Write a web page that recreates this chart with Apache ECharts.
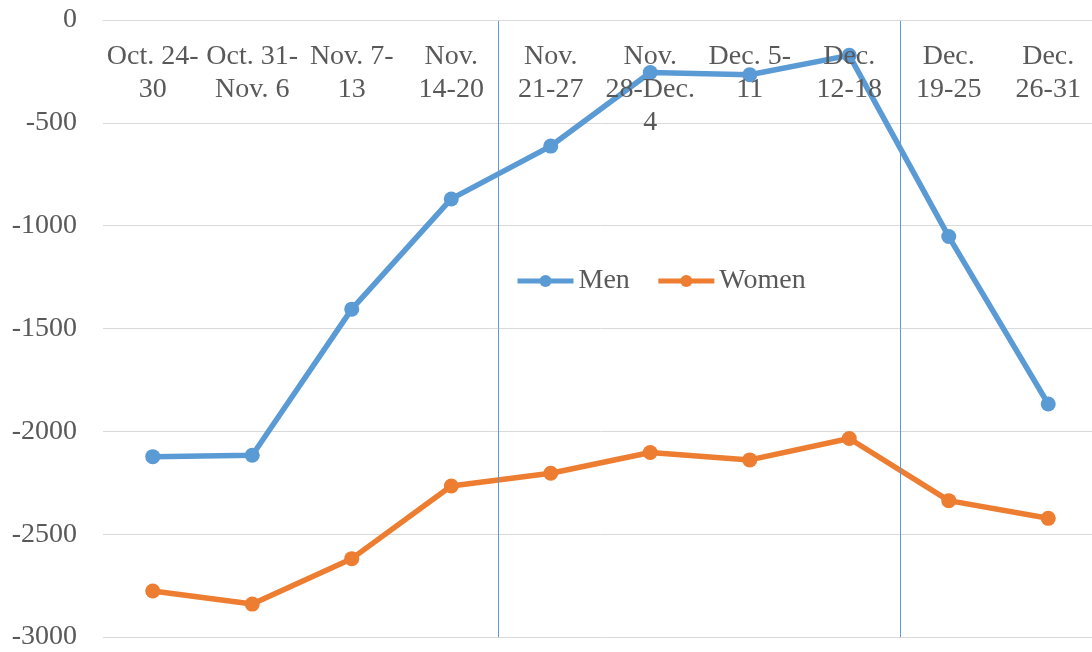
<!DOCTYPE html>
<html>
<head>
<meta charset="utf-8">
<script src="https://cdn.jsdelivr.net/npm/echarts@6/dist/echarts.min.js"></script>
<style>
html,body{margin:0;padding:0;background:#fff;overflow:hidden;}
#chart{width:1098px;height:652px;}
</style>
</head>
<body>
<div id="chart"></div>
<script>
var categories = ["Oct. 24-\n30", "Oct. 31-\nNov. 6", "Nov. 7-\n13", "Nov.\n14-20", "Nov.\n21-27", "Nov.\n28-Dec.\n4", "Dec. 5-\n11", "Dec.\n12-18", "Dec.\n19-25", "Dec.\n26-31"];
var men = [-2123, -2116, -1406, -870, -613, -255, -266, -172, -1053, -1867];
var women = [-2776, -2840, -2619, -2266, -2204, -2103, -2139, -2035, -2337, -2423];
var separators = [3.971, 8.005];
var yTicks = {min: -3000, max: 0, interval: 500};

var FONT = '"Liberation Serif", "Times New Roman", serif';
var chart = echarts.init(document.getElementById('chart'));
chart.setOption({
  animation: false,
  backgroundColor: '#ffffff',
  grid: {left: 103, top: 20, right: 0, bottom: 15, containLabel: false},
  legend: {
    data: ['Men', 'Women'],
    left: 510, top: 262,
    itemWidth: 56, itemHeight: 15, itemGap: 26,
    lineStyle: {width: 5},
    textStyle: {fontFamily: FONT, fontSize: 28, color: '#595959'}
  },
  xAxis: [{
    type: 'category',
    data: categories,
    position: 'top',
    boundaryGap: true,
    z: 10,
    axisLine: {show: true, lineStyle: {color: '#d9d9d9', width: 1}},
    axisTick: {show: false},
    axisLabel: {inside: true, margin: 20, interval: 0, fontFamily: FONT, fontSize: 28, lineHeight: 33, color: '#595959'},
    splitLine: {show: false}
  }, {
    type: 'value', min: 0, max: 10, show: false
  }],
  yAxis: {
    type: 'value',
    min: yTicks.min, max: yTicks.max, interval: yTicks.interval,
    axisLine: {show: false},
    axisTick: {show: false},
    axisLabel: {margin: 26, fontFamily: FONT, fontSize: 28, color: '#595959',
      formatter: function (v) { return String(v); }},
    splitLine: {show: true, lineStyle: {color: '#d9d9d9', width: 1}}
  },
  series: [{
    name: 'sep', type: 'line', xAxisIndex: 1, data: [], z: 1, silent: true,
    markLine: {
      symbol: 'none', silent: true, label: {show: false},
      lineStyle: {color: '#5b9bd5', width: 1, type: 'solid', opacity: 1},
      emphasis: {disabled: true},
      data: separators.map(function (v) { return {xAxis: v}; })
    }
  }, {
    name: 'Men', type: 'line', data: men,
    symbol: 'circle', symbolSize: 15,
    lineStyle: {color: '#5b9bd5', width: 5.5},
    itemStyle: {color: '#5b9bd5'}
  }, {
    name: 'Women', type: 'line', data: women,
    symbol: 'circle', symbolSize: 15,
    lineStyle: {color: '#ed7d31', width: 5.5},
    itemStyle: {color: '#ed7d31'}
  }]
});
</script>
</body>
</html>
